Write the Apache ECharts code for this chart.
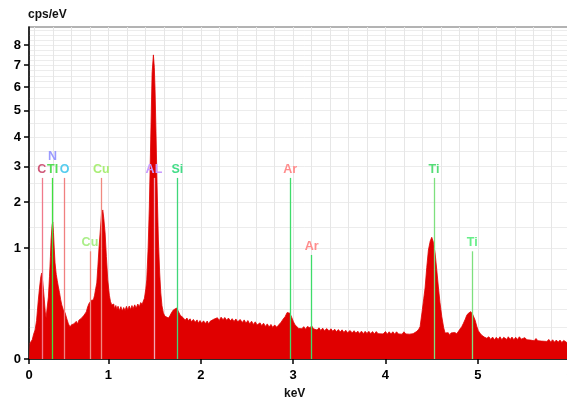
<!DOCTYPE html>
<html>
<head>
<meta charset="utf-8">
<script src="https://cdn.jsdelivr.net/npm/echarts@6/dist/echarts.min.js"></script>
<style>
html,body{margin:0;padding:0;background:#fff;overflow:hidden;width:567px;height:402px;}
#chart{width:600px;height:402px;}
</style>
</head>
<body>
<div id="chart"></div>
<script>
// EDS spectrum: [energy keV, cps/eV]
const spectrumPoints = [
[0.145,0.0],[0.152,0.021],[0.175,0.03],[0.19,0.05],[0.206,0.068],[0.222,0.12],[0.241,0.283],[0.255,0.42],[0.268,0.55],[0.278,0.60],
[0.290,0.47],[0.306,0.283],[0.316,0.18],[0.325,0.136],[0.335,0.20],[0.350,0.312],[0.362,0.55],[0.372,0.85],[0.379,1.149],[0.390,1.45],
[0.397,1.523],[0.405,1.30],[0.413,1.0],[0.422,0.748],[0.435,0.58],[0.446,0.50],[0.458,0.421],[0.470,0.36],[0.482,0.29],[0.495,0.237],
[0.510,0.20],[0.531,0.172],[0.550,0.13],[0.567,0.10],[0.585,0.083],[0.600,0.095],[0.612,0.085],[0.625,0.1],[0.639,0.092],[0.652,0.115],
[0.666,0.1],[0.680,0.122],[0.693,0.112],[0.708,0.135],[0.722,0.128],[0.735,0.155],[0.747,0.148],[0.760,0.18],[0.775,0.22],[0.790,0.25],
[0.801,0.264],[0.815,0.28],[0.825,0.27],[0.837,0.283],[0.850,0.33],[0.862,0.40],[0.874,0.469],[0.886,0.70],[0.898,1.0],[0.910,1.289],
[0.925,1.70],[0.939,1.802],[0.950,1.60],[0.964,1.289],[0.978,0.85],[0.993,0.507],[1.010,0.33],[1.022,0.27],[1.036,0.237],[1.050,0.22],
[1.058,0.245],[1.065,0.205],[1.080,0.232],[1.092,0.198],[1.104,0.226],[1.120,0.19],[1.135,0.222],[1.150,0.186],[1.165,0.215],[1.180,0.19],
[1.195,0.225],[1.210,0.195],[1.225,0.228],[1.240,0.198],[1.255,0.232],[1.267,0.204],[1.285,0.238],[1.300,0.208],[1.318,0.245],[1.335,0.222],
[1.350,0.258],[1.365,0.24],[1.375,0.265],[1.390,0.30],[1.405,0.40],[1.415,0.507],[1.430,1.0],[1.443,1.875],[1.458,3.893],[1.473,6.639],
[1.487,7.501],[1.497,6.9],[1.505,5.873],[1.515,4.2],[1.524,2.808],[1.532,1.9],[1.541,1.149],[1.555,0.6],[1.567,0.354],[1.580,0.23],
[1.595,0.172],[1.610,0.15],[1.625,0.14],[1.649,0.136],[1.665,0.15],[1.680,0.17],[1.703,0.195],[1.720,0.205],[1.740,0.211],[1.760,0.18],
[1.778,0.155],[1.794,0.143],[1.810,0.138],[1.830,0.122],[1.850,0.136],[1.868,0.118],[1.884,0.131],[1.900,0.112],[1.920,0.127],[1.940,0.11],
[1.960,0.124],[1.975,0.104],[1.992,0.12],[2.010,0.103],[2.030,0.118],[2.050,0.102],[2.070,0.117],[2.085,0.1],[2.101,0.115],[2.120,0.108],
[2.140,0.128],[2.160,0.117],[2.180,0.138],[2.200,0.12],[2.220,0.142],[2.242,0.125],[2.260,0.14],[2.280,0.122],[2.300,0.136],[2.320,0.118],
[2.340,0.132],[2.360,0.114],[2.380,0.13],[2.400,0.112],[2.426,0.127],[2.450,0.108],[2.470,0.124],[2.490,0.104],[2.510,0.12],[2.530,0.1],
[2.550,0.116],[2.570,0.097],[2.590,0.112],[2.610,0.094],[2.642,0.106],[2.660,0.09],[2.680,0.104],[2.700,0.086],[2.720,0.1],[2.740,0.083],
[2.760,0.097],[2.780,0.081],[2.800,0.094],[2.823,0.082],[2.845,0.095],[2.870,0.11],[2.893,0.13],[2.913,0.145],[2.935,0.175],[2.949,0.182],
[2.965,0.17],[2.985,0.14],[3.003,0.113],[3.020,0.095],[3.040,0.085],[3.060,0.076],[3.075,0.086],[3.095,0.074],[3.115,0.085],[3.135,0.072],
[3.155,0.086],[3.184,0.078],[3.200,0.09],[3.220,0.074],[3.240,0.082],[3.260,0.068],[3.280,0.079],[3.300,0.066],[3.320,0.077],[3.340,0.065],
[3.364,0.075],[3.390,0.064],[3.410,0.074],[3.430,0.062],[3.450,0.072],[3.470,0.06],[3.490,0.07],[3.510,0.059],[3.530,0.069],[3.550,0.057],
[3.570,0.067],[3.590,0.056],[3.617,0.066],[3.640,0.055],[3.660,0.065],[3.680,0.054],[3.700,0.063],[3.720,0.053],[3.740,0.063],[3.760,0.052],
[3.780,0.062],[3.800,0.053],[3.820,0.062],[3.840,0.052],[3.860,0.061],[3.880,0.051],[3.900,0.061],[3.920,0.052],[3.940,0.06],[3.974,0.051],
[4.000,0.061],[4.020,0.05],[4.040,0.06],[4.060,0.051],[4.080,0.06],[4.100,0.05],[4.120,0.06],[4.140,0.051],[4.160,0.059],[4.180,0.05],
[4.200,0.06],[4.220,0.051],[4.240,0.059],[4.260,0.05],[4.280,0.058],[4.299,0.052],[4.320,0.06],[4.340,0.062],[4.360,0.072],[4.375,0.085],
[4.400,0.2],[4.415,0.3],[4.429,0.409],[4.447,0.68],[4.465,0.964],[4.485,1.13],[4.501,1.202],[4.520,1.10],[4.537,0.912],[4.555,0.65],
[4.573,0.421],[4.590,0.26],[4.610,0.145],[4.630,0.08],[4.645,0.055],[4.664,0.047],[4.680,0.056],[4.695,0.046],[4.710,0.055],[4.730,0.047],
[4.750,0.057],[4.772,0.052],[4.790,0.062],[4.810,0.07],[4.826,0.085],[4.844,0.103],[4.865,0.13],[4.880,0.155],[4.898,0.17],[4.924,0.182],
[4.945,0.16],[4.970,0.123],[4.990,0.085],[5.005,0.065],[5.024,0.054],[5.045,0.045],[5.070,0.039],[5.097,0.035],[5.120,0.04],[5.140,0.031],
[5.160,0.039],[5.180,0.03],[5.200,0.038],[5.220,0.031],[5.240,0.04],[5.260,0.03],[5.280,0.038],[5.314,0.031],[5.330,0.04],[5.350,0.031],
[5.370,0.039],[5.390,0.03],[5.410,0.038],[5.430,0.031],[5.450,0.04],[5.470,0.032],[5.490,0.029],[5.510,0.037],[5.530,0.03],[5.550,0.036],
[5.570,0.029],[5.590,0.035],[5.610,0.027],[5.630,0.034],[5.650,0.027],[5.670,0.033],[5.690,0.026],[5.710,0.031],[5.747,0.025],[5.770,0.031],
[5.790,0.023],[5.810,0.03],[5.830,0.023],[5.850,0.029],[5.870,0.023],[5.890,0.029],[5.910,0.022],[5.930,0.028],[5.964,0.022],[6.000,0.028],
[6.050,0.023],[6.100,0.026]
];

// Element marker lines
const markerEnergy = [0.279, 0.395, 0.395, 0.525, 0.80, 0.924, 1.493, 1.747, 2.967, 3.20, 4.525, 4.94];
const markerLabel  = ['C', 'N', 'TI', 'O', 'Cu', 'Cu', 'AL', 'Si', 'Ar', 'Ar', 'Ti', 'Ti'];
const markerLevel  = [1, 3, 1, 1, 2, 1, 1, 1, 1, 2, 1, 2];

// Axis ticks
const yTickLabels = [0, 1, 2, 3, 4, 5, 6, 7, 8];
const xTickLabels = [0, 1, 2, 3, 4, 5, 6];

const xMin = 0.14, xMax = 6.1;
const ySqrtMax = 2.99;

// Styles (not data)
const lineColors  = ['#f07a8a', 'rgba(0,0,0,0)', '#3ee03e', '#f08080', '#f08a80', '#f08a80', '#f2a6b4', '#3fd77a', '#3edc6a', '#3edc6a', '#7ee07e', '#7ee07e'];
const labelColors = ['#d05a7a', '#9a9aff', '#55dd55', '#55ccee', '#aaee88', '#aaee77', '#c899ff', '#44dd88', '#ff8c8c', '#ff8c8c', '#55dd77', '#66ee88'];
const levelSqrt = {1: 1.631, 2: 0.97, 3: 1.745};
const levelSqrtAdj = {'Ar2': 0.937};

const sq = v => Math.sqrt(v);
const fmtNum = v => String(Math.round(v * v));

const gridYValues = [0.02,0.08,0.2,0.4,0.65,1,1.4,2,2.5,3,3.5,4,4.5,5,5.5,6,6.25,6.5,6.75,7,7.25,7.5,7.75,8,8.25,8.5,8.75];
const gridXValues = [];
for (let i = 1; i <= 30; i++) gridXValues.push(+(i * 0.2).toFixed(1));

const markLineData = markerEnergy.map((e, i) => {
  let top = levelSqrt[markerLevel[i]];
  if (markerLabel[i] === 'Ar' && markerLevel[i] === 2) top = levelSqrtAdj['Ar2'];
  return [
    { coord: [e, 0], lineStyle: { color: lineColors[i], width: 1.3, type: 'solid' },
      label: { show: true, position: 'end', formatter: markerLabel[i], color: labelColors[i], distance: 2,
               fontSize: 12.5, fontWeight: 'bold', fontFamily: 'Liberation Sans, Arial, sans-serif' } },
    { coord: [e, top] }
  ];
});

const chart = echarts.init(document.getElementById('chart'), null, { renderer: 'canvas' });
chart.setOption({
  animation: false,
  backgroundColor: '#fff',
  grid: { left: 29, top: 27, width: (xMax - xMin) * 92.35, bottom: 43, show: true, borderColor: '#9a9a9a', borderWidth: 1.5, backgroundColor: '#fff' },
  graphic: [
    { type: 'text', left: 28, top: 9, style: { text: 'cps/eV', font: 'bold 12px "Liberation Sans", Arial, sans-serif', fill: '#111' } },
    { type: 'text', left: 284, top: 388, style: { text: 'keV', font: 'bold 12px "Liberation Sans", Arial, sans-serif', fill: '#111' } }
  ],
  xAxis: [
    {
      type: 'value', min: xMin, max: xMax,
      axisLine: { show: true, onZero: false, lineStyle: { color: '#000', width: 1.5 } },
      axisTick: { show: true, length: 5, customValues: xTickLabels.map(v => v === 0 ? xMin : v), lineStyle: { color: '#000', width: 1.5 } },
      axisLabel: { customValues: xTickLabels.map(v => v === 0 ? xMin : v), formatter: v => String(Math.round(v)), margin: 10,
                   color: '#000', fontSize: 13, fontWeight: 'bold', fontFamily: 'Liberation Sans, Arial, sans-serif' },
      splitLine: { show: false }
    },
    {
      type: 'value', min: xMin, max: xMax, position: 'bottom',
      axisLine: { show: false }, axisTick: { show: false, customValues: gridXValues },
      axisLabel: { show: false, customValues: gridXValues },
      splitLine: { show: true, lineStyle: { color: '#e6e6e6', width: 1 } }
    }
  ],
  yAxis: [
    {
      type: 'value', min: 0, max: ySqrtMax,
      axisLine: { show: true, onZero: false, lineStyle: { color: '#000', width: 1.5 } },
      axisTick: { show: true, length: 5, customValues: yTickLabels.map(sq), lineStyle: { color: '#000', width: 1.5 } },
      axisLabel: { customValues: yTickLabels.map(sq), formatter: fmtNum, margin: 8,
                   color: '#000', fontSize: 13, fontWeight: 'bold', fontFamily: 'Liberation Sans, Arial, sans-serif' },
      splitLine: { show: false }
    },
    {
      type: 'value', min: 0, max: ySqrtMax, position: 'left',
      axisLine: { show: false }, axisTick: { show: false, customValues: gridYValues.map(sq) },
      axisLabel: { show: false, customValues: gridYValues.map(sq) },
      splitLine: { show: true, lineStyle: { color: '#ececec', width: 1 } }
    }
  ],
  series: [
    {
      type: 'line', xAxisIndex: 0, yAxisIndex: 0,
      data: spectrumPoints.map(p => [p[0], sq(p[1])]),
      showSymbol: false, symbol: 'none', smooth: false,
      lineStyle: { color: '#e00000', width: 0.8 },
      areaStyle: { color: '#e00000', opacity: 1 },
      z: 3,
      markLine: {
        silent: true, symbol: ['none', 'none'], animation: false, z: 5,
        data: markLineData
      }
    }
  ]
});
</script>
</body>
</html>
